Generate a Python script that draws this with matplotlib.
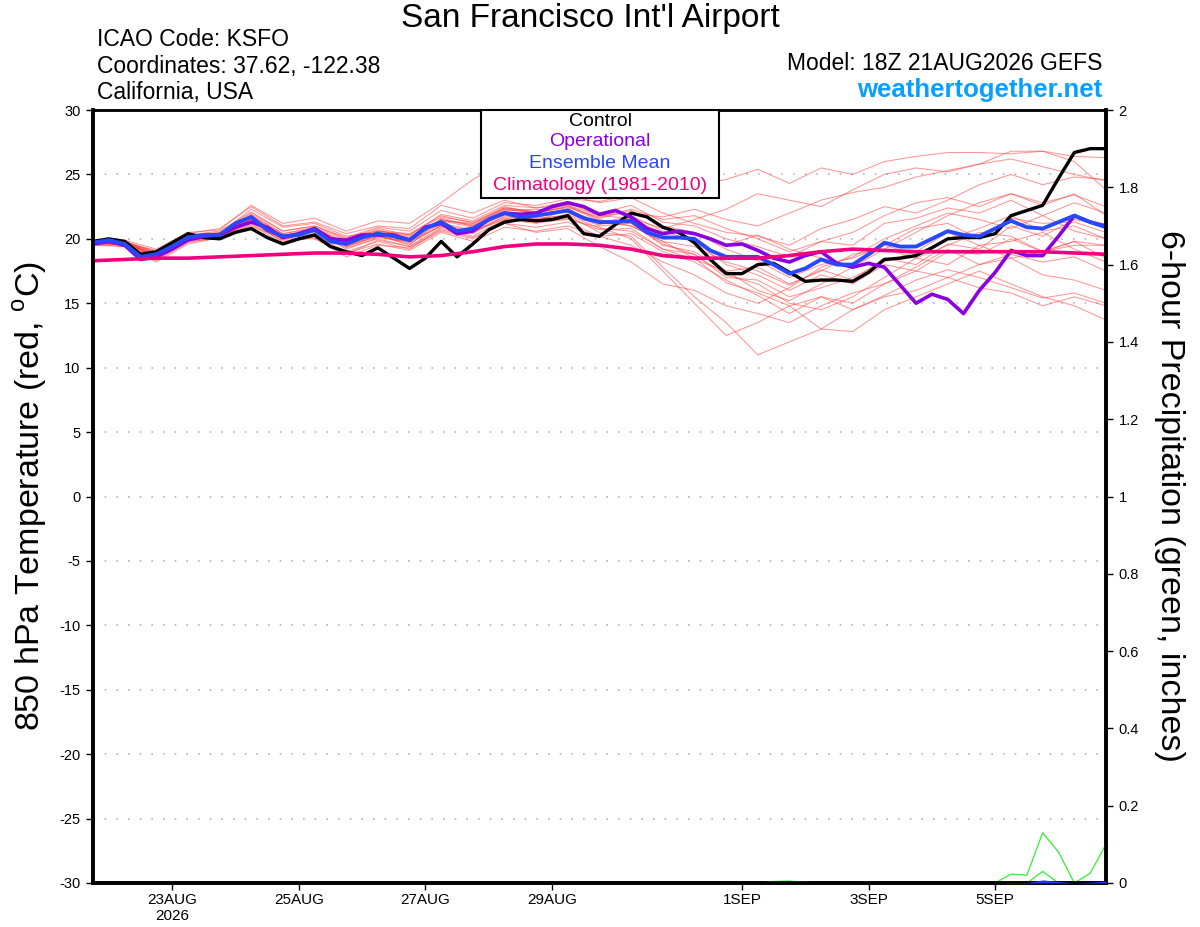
import pandas as pd
import matplotlib.pyplot as plt
from matplotlib.patches import Rectangle

plt.rcParams['font.family'] = ['Liberation Sans', 'DejaVu Sans']
plt.rcParams['mathtext.fontset'] = 'custom'
plt.rcParams['mathtext.rm'] = 'Liberation Sans'

# time axes (6-hourly for main lines, 12-hourly for members/climatology)
times6 = pd.date_range('2026-08-21 18:00', periods=65, freq='6h')
times12 = pd.date_range('2026-08-21 18:00', periods=33, freq='12h')

# control run
control = [19.8, 20.0, 19.8, 18.8, 19.0, 19.7, 20.4, 20.1, 20.0, 20.5, 20.8, 20.1, 19.6,
           20.0, 20.3, 19.4, 19.0, 18.7, 19.3, 18.5, 17.7, 18.5, 19.8, 18.6, 19.6, 20.7,
           21.3, 21.5, 21.4, 21.5, 21.8, 20.4, 20.2, 21.1, 22.0, 21.7, 20.9, 20.5, 19.7,
           18.4, 17.3, 17.3, 18.0, 18.1, 17.4, 16.7, 16.8, 16.8, 16.7, 17.4, 18.4, 18.5,
           18.7, 19.3, 20.0, 20.1, 20.1, 20.4, 21.8, 22.2, 22.6, 24.7, 26.7, 27.0, 27.0]

# operational run
operational = [19.6, 19.8, 19.5, 18.4, 18.6, 19.2, 19.9, 20.2, 20.3, 20.9, 21.3, 20.9, 20.1,
               20.4, 20.8, 20.0, 19.9, 20.3, 20.3, 20.3, 19.9, 20.9, 21.2, 20.4, 20.6, 21.5,
               22.0, 21.9, 22.0, 22.5, 22.8, 22.5, 21.9, 22.2, 21.7, 20.8, 20.4, 20.6, 20.4,
               20.0, 19.5, 19.6, 19.1, 18.5, 18.2, 18.7, 19.0, 18.1, 17.8, 18.1, 17.8, 16.4,
               15.0, 15.7, 15.3, 14.2, 16.0, 17.4, 19.1, 18.7, 18.7, 20.2, 21.8, 21.3, 21.0]

# ensemble mean
ens_mean = [19.7, 19.9, 19.6, 18.6, 18.8, 19.4, 20.1, 20.3, 20.3, 21.2, 21.7, 20.7, 20.2,
            20.3, 20.7, 19.8, 19.6, 20.1, 20.4, 20.2, 19.9, 20.8, 21.3, 20.6, 20.8, 21.5,
            22.0, 21.7, 21.8, 22.0, 22.2, 21.6, 21.3, 21.3, 21.4, 20.5, 20.1, 20.1, 20.0,
            19.1, 18.6, 18.6, 18.6, 18.0, 17.3, 17.7, 18.4, 18.0, 18.0, 18.8, 19.7, 19.4,
            19.4, 20.0, 20.6, 20.3, 20.2, 20.8, 21.4, 20.9, 20.8, 21.3, 21.8, 21.3, 20.9]

# climatology 1981-2010 (12-hourly)
climatology = [18.3, 18.4, 18.5, 18.5, 18.6, 18.7, 18.8, 18.9, 18.9, 18.8, 18.6, 18.7, 19.0,
               19.4, 19.6, 19.6, 19.5, 19.2, 18.7, 18.5, 18.5, 18.5, 18.7, 19.0, 19.2, 19.1,
               19.0, 19.0, 19.0, 19.0, 19.0, 18.9, 18.8]

# ensemble members (12-hourly)
m01 = [19.9, 19.8, 18.9, 20.3, 20.6, 22.1, 20.6, 21.0, 20.1, 20.9, 20.6, 22.2, 21.6, 22.8, 22.6, 23.1, 22.9,
       23.4, 23.8, 24.2, 24.6, 25.4, 24.3, 25.5, 25.0, 26.0, 26.4, 26.7, 26.7, 26.6, 26.8, 26.4, 26.3]
m02 = [19.8, 19.9, 18.5, 20.2, 20.4, 22.3, 20.9, 21.2, 20.2, 20.6, 20.4, 21.8, 21.2, 22.5, 22.0, 22.8, 21.8,
       22.0, 21.7, 22.3, 21.5, 21.0, 22.0, 23.0, 23.6, 24.0, 24.8, 25.3, 25.8, 26.8, 26.8, 26.0, 23.8]
m03 = [19.5, 19.4, 18.2, 19.6, 20.1, 21.2, 19.8, 20.3, 19.0, 19.8, 19.2, 20.8, 20.2, 21.5, 21.6, 21.8, 20.5,
       20.2, 17.8, 15.5, 13.5, 11.0, 12.0, 13.0, 14.5, 15.5, 16.0, 17.0, 18.0, 18.5, 19.0, 19.5, 19.5]
m04 = [19.6, 19.7, 19.0, 20.0, 20.5, 21.5, 20.0, 20.9, 19.4, 20.2, 19.7, 21.0, 20.5, 21.6, 21.3, 21.5, 20.9,
       20.0, 17.5, 15.0, 12.5, 13.5, 14.8, 13.0, 12.8, 14.5, 15.5, 16.5, 17.5, 16.5, 15.5, 14.8, 13.7]
m05 = [19.8, 19.7, 19.1, 20.4, 20.8, 22.5, 21.0, 21.3, 20.4, 21.0, 20.8, 22.6, 22.0, 23.0, 22.4, 22.6, 21.8,
       21.6, 20.8, 21.5, 22.3, 23.5, 23.0, 22.5, 23.8, 25.0, 25.5, 25.2, 25.8, 26.2, 25.6, 25.0, 24.5]
m06 = [19.7, 19.5, 18.6, 19.9, 20.0, 21.4, 19.7, 20.1, 18.6, 19.5, 19.3, 20.6, 20.0, 21.2, 20.5, 20.8, 19.4,
       18.2, 16.5, 16.0, 14.8, 14.2, 13.5, 14.8, 15.8, 16.5, 17.5, 17.0, 16.2, 15.8, 14.8, 15.5, 14.8]
m07 = [19.7, 19.6, 18.8, 20.2, 20.3, 21.6, 20.3, 20.5, 19.8, 20.7, 20.0, 21.4, 21.2, 22.3, 22.0, 22.5, 21.6,
       22.2, 21.0, 20.5, 19.2, 18.3, 17.0, 18.0, 18.5, 19.5, 18.8, 20.0, 20.8, 21.8, 20.6, 21.0, 20.0]
m08 = [19.6, 19.8, 18.6, 20.0, 20.2, 21.9, 20.4, 20.9, 19.9, 20.3, 19.5, 21.6, 21.0, 22.2, 22.3, 22.0, 21.0,
       21.2, 19.5, 19.0, 17.5, 16.0, 15.2, 16.5, 17.8, 19.2, 20.5, 21.8, 22.8, 23.5, 22.8, 23.4, 22.5]
m09 = [19.8, 19.5, 18.9, 20.0, 20.1, 21.3, 19.9, 20.6, 19.2, 20.1, 19.8, 21.0, 20.4, 21.8, 21.4, 22.3, 21.2,
       21.8, 20.6, 19.8, 18.0, 17.2, 16.0, 17.2, 16.5, 18.0, 17.5, 19.0, 18.8, 20.0, 19.0, 19.8, 18.5]
m10 = [19.7, 19.7, 18.7, 20.1, 20.4, 21.8, 20.1, 20.8, 19.7, 20.5, 20.1, 21.5, 21.1, 22.4, 22.1, 22.6, 21.5,
       21.0, 19.8, 19.4, 18.2, 17.5, 16.4, 17.6, 16.8, 18.5, 18.0, 19.6, 19.2, 21.0, 20.2, 21.5, 21.0]
m11 = [19.6, 19.4, 18.4, 19.8, 20.0, 21.1, 19.6, 20.2, 18.9, 19.6, 19.1, 20.5, 19.8, 20.9, 20.6, 21.0, 20.2,
       20.4, 19.0, 18.2, 16.8, 15.6, 14.2, 15.5, 15.0, 16.5, 17.8, 19.2, 18.0, 18.8, 18.2, 18.6, 17.5]
m12 = [19.9, 19.8, 19.0, 20.3, 20.5, 22.0, 20.6, 21.0, 20.0, 20.8, 20.3, 21.9, 21.4, 22.6, 22.4, 22.9, 22.0,
       22.6, 21.3, 21.0, 20.0, 19.4, 18.6, 19.8, 19.5, 21.2, 21.6, 22.4, 22.0, 23.0, 21.8, 22.8, 22.0]
m13 = [19.5, 19.6, 18.3, 19.7, 20.2, 21.0, 20.0, 20.0, 18.8, 19.9, 19.4, 20.9, 20.6, 21.5, 21.2, 21.6, 20.7,
       20.8, 19.2, 18.8, 17.0, 16.8, 15.5, 16.2, 17.0, 18.2, 19.0, 20.5, 19.5, 18.5, 17.2, 16.8, 16.0]
m14 = [19.8, 19.9, 19.2, 20.5, 20.7, 22.6, 21.2, 21.6, 20.6, 21.4, 21.2, 22.8, 24.6, 26.0, 24.2, 23.4, 22.8,
       23.2, 22.0, 21.2, 20.5, 20.2, 19.5, 20.8, 21.5, 22.5, 22.0, 23.0, 24.2, 25.0, 24.2, 24.8, 24.6]
m15 = [19.7, 19.6, 18.7, 20.0, 20.2, 21.5, 20.1, 20.6, 19.5, 20.2, 19.6, 21.1, 20.6, 21.7, 21.5, 21.9, 20.8,
       20.6, 19.2, 18.4, 17.5, 17.8, 16.5, 17.5, 18.8, 19.2, 18.5, 19.5, 20.5, 20.2, 19.0, 19.8, 19.5]
m16 = [19.6, 19.7, 18.9, 20.2, 20.4, 21.7, 20.3, 20.7, 19.5, 20.3, 19.9, 21.4, 20.9, 22.1, 21.9, 22.1, 21.1,
       21.6, 20.4, 20.5, 19.5, 20.3, 19.2, 18.5, 17.8, 19.5, 20.8, 21.2, 20.0, 21.6, 21.2, 21.3, 20.5]
m17 = [19.7, 19.5, 18.5, 19.9, 20.1, 21.4, 20.0, 20.4, 19.3, 20.0, 19.4, 20.7, 20.1, 21.2, 20.9, 21.3, 20.2,
       19.5, 18.2, 17.2, 15.8, 15.0, 16.2, 17.8, 18.6, 20.0, 21.0, 22.0, 21.5, 20.8, 21.8, 20.6, 20.0]
m18 = [19.8, 19.7, 18.8, 20.1, 20.3, 21.8, 20.4, 20.8, 19.7, 20.6, 20.2, 21.5, 21.0, 22.3, 22.0, 22.5, 21.4,
       21.2, 19.6, 18.8, 17.2, 16.5, 15.0, 14.5, 15.5, 17.0, 18.5, 18.0, 19.5, 19.8, 20.5, 19.2, 18.2]
m19 = [19.8, 19.6, 18.7, 20.0, 20.4, 21.6, 20.2, 20.7, 19.6, 20.6, 20.3, 21.7, 21.3, 22.4, 22.1, 22.4, 21.7,
       22.3, 21.5, 21.8, 20.8, 20.0, 19.0, 19.8, 20.5, 21.8, 22.8, 23.2, 22.5, 23.5, 22.6, 23.5, 21.8]
m20 = [19.6, 19.6, 18.6, 20.0, 20.2, 21.5, 20.0, 20.7, 19.4, 20.2, 19.8, 21.2, 20.7, 21.9, 21.7, 22.2, 21.3,
       21.0, 19.8, 18.5, 16.6, 15.8, 14.8, 15.5, 14.5, 15.6, 16.8, 17.6, 17.0, 16.2, 15.4, 15.8, 15.0]
members = [m01, m02, m03, m04, m05, m06, m07, m08, m09, m10,
           m11, m12, m13, m14, m15, m16, m17, m18, m19, m20]

# 6-hour precipitation (inches), two wet members and the ensemble mean
precip_a = [0, 0, 0, 0, 0, 0, 0, 0, 0, 0, 0, 0, 0,
            0, 0, 0, 0, 0, 0, 0, 0, 0, 0, 0, 0, 0,
            0, 0, 0, 0, 0, 0, 0, 0, 0, 0, 0, 0, 0,
            0, 0, 0, 0, 0.004, 0.005, 0.002, 0, 0, 0, 0.003, 0, 0,
            0, 0, 0, 0, 0, 0, 0.023, 0.02, 0.13, 0.08, 0, 0.025, 0.10]
precip_b = [0, 0, 0, 0, 0, 0, 0, 0, 0, 0, 0, 0, 0,
            0, 0, 0, 0, 0, 0, 0, 0, 0, 0, 0, 0, 0,
            0, 0, 0, 0, 0, 0, 0, 0, 0, 0, 0, 0, 0,
            0, 0, 0, 0, 0, 0, 0, 0, 0, 0, 0, 0, 0,
            0, 0, 0, 0, 0, 0, 0, 0, 0.03, 0, 0, 0, 0]
precip_mean = [0, 0, 0, 0, 0, 0, 0, 0, 0, 0, 0, 0, 0,
               0, 0, 0, 0, 0, 0, 0, 0, 0, 0, 0, 0, 0,
               0, 0, 0, 0, 0, 0, 0, 0, 0, 0, 0, 0, 0,
               0, 0, 0, 0, 0, 0, 0, 0, 0, 0, 0, 0, 0,
               0, 0, 0, 0, 0, 0, 0.001, 0.001, 0.008, 0.004, 0, 0.002, 0.005]

xtick_dates = ['2026-08-23', '2026-08-25', '2026-08-27', '2026-08-29',
               '2026-09-01', '2026-09-03', '2026-09-05']
xtick_labels = ['23AUG\n2026', '25AUG', '27AUG', '29AUG', '1SEP', '3SEP', '5SEP']
temp_ticks = [30, 25, 20, 15, 10, 5, 0, -5, -10, -15, -20, -25, -30]
precip_ticks = [0, 0.2, 0.4, 0.6, 0.8, 1, 1.2, 1.4, 1.6, 1.8, 2]
precip_labels = ['0', '0.2', '0.4', '0.6', '0.8', '1', '1.2', '1.4', '1.6', '1.8', '2']

W, H = 1200, 927
fig = plt.figure(figsize=(12, 9.27), dpi=100)
ax = fig.add_axes([93 / W, 1 - 883 / H, (1106 - 93) / W, (883 - 110) / H])

# grid (dotted)
for t in temp_ticks[1:-1]:
    ax.axhline(t, color='#b4b4b4', lw=1.2, linestyle=(0, (1, 6)), zorder=0)

# members
for m in members:
    ax.plot(times12, m, color='#ff4040', lw=0.75, alpha=0.55, zorder=2)

ax.plot(times6, control, color='black', lw=2.4, zorder=4)
ax.plot(times6, operational, color='#8a00e0', lw=2.6, zorder=5)
ax.plot(times6, ens_mean, color='#2848ff', lw=2.8, zorder=6)
ax.plot(times12, climatology, color='#f0007f', lw=2.6, zorder=7)

ax.set_ylim(-30, 30)
ax.set_xlim(times6[0], times6[-1])
ax.set_yticks(temp_ticks)
ax.set_yticklabels([str(t) for t in temp_ticks])
ax.set_xticks(pd.to_datetime(xtick_dates))
ax.set_xticklabels(xtick_labels)
ax.tick_params(axis='y', labelsize=10.5, length=5, width=1, pad=4, direction='out')
ax.tick_params(axis='x', labelsize=11, length=5, width=1, pad=2, direction='out')
for sp in ['left', 'right', 'bottom']:
    ax.spines[sp].set_linewidth(2.6)
ax.spines['top'].set_linewidth(1.8)

# precipitation axis
ax2 = ax.twinx()
ax2.set_ylim(0, 2)
ax2.fill_between(times6, 0, precip_mean, color='#2030ff', lw=0, zorder=3)
ax2.plot(times6, precip_a, color='#33ee33', lw=0.9)
ax2.plot(times6, precip_b, color='#33ee33', lw=0.9)
ax2.set_yticks(precip_ticks)
ax2.set_yticklabels(precip_labels)
ax2.tick_params(axis='y', labelsize=10.5, length=5, width=1, pad=4, direction='out')
for sp in ['left', 'right', 'bottom']:
    ax2.spines[sp].set_linewidth(2.6)
ax2.spines['top'].set_linewidth(1.8)

# legend box
fig.add_artist(Rectangle((481 / W, 1 - 198 / H), (719 - 481) / W, 88 / H,
                         transform=fig.transFigure, facecolor='white',
                         edgecolor='black', lw=1.5, zorder=5))
legend_items = [('Control', 'black', 121), ('Operational', '#8a00e0', 142),
                ('Ensemble Mean', '#2848ff', 163), ('Climatology (1981-2010)', '#f0007f', 185)]
for txt, col, yy in legend_items:
    fig.text(600 / W, 1 - yy / H, txt, color=col, fontsize=14,
             ha='center', va='center', zorder=6)

# header texts
fig.text(590 / W, 1 - 18 / H, "San Francisco Int'l Airport", fontsize=24,
         ha='center', va='center')
fig.text(97 / W, 1 - 40 / H, 'ICAO Code: KSFO', fontsize=16.5, va='center')
fig.text(97 / W, 1 - 66 / H, 'Coordinates: 37.62, -122.38', fontsize=16.5, va='center')
fig.text(97 / W, 1 - 92 / H, 'California, USA', fontsize=16.5, va='center')
fig.text(1102 / W, 1 - 63 / H, 'Model: 18Z 21AUG2026 GEFS', fontsize=16.5,
         ha='right', va='center')
fig.text(1102 / W, 1 - 90 / H, 'weathertogether.net', fontsize=18.5, fontweight='bold',
         color='#08a0ff', ha='right', va='center')

# axis titles
fig.text(30 / W, 1 - 496 / H, '850 hPa Temperature (red, $^{\\rm o}$C)', fontsize=24.5,
         rotation=90, ha='center', va='center')
fig.text(1170 / W, 1 - 496 / H, '6-hour Precipitation (green, inches)', fontsize=24.5,
         rotation=270, ha='center', va='center')

fig.savefig('out.png', dpi=100)
